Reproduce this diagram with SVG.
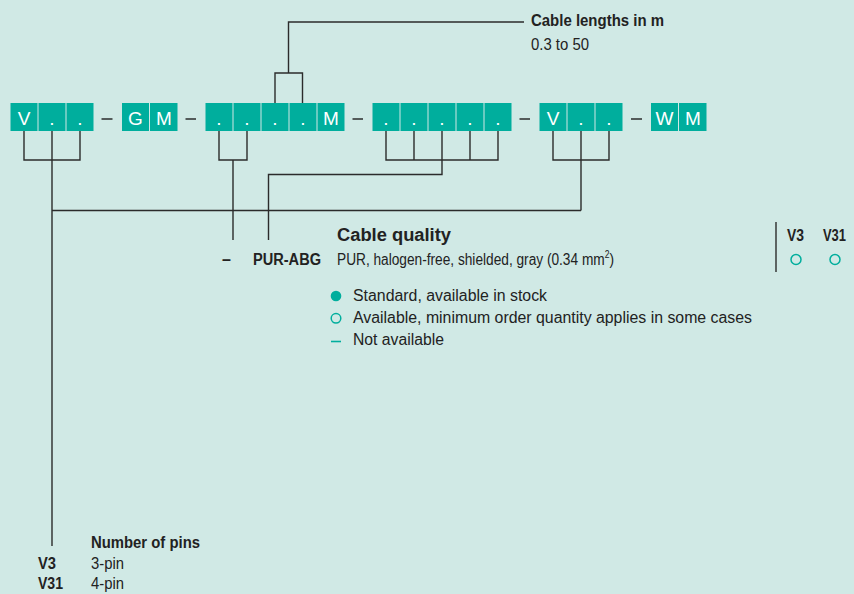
<svg xmlns="http://www.w3.org/2000/svg" width="854" height="594" viewBox="0 0 854 594">
<style>
.bx{fill:#00ae9d}
.bt{fill:#fff;font-family:"Liberation Sans",Arial,sans-serif;font-size:19px;text-anchor:middle}
.ln{fill:none;stroke:#2b2b2b;stroke-width:1.4}
.ds{stroke:#2b2b2b;stroke-width:1.5}
.t{fill:#222;font-family:"Liberation Sans",Arial,sans-serif;font-size:16px}
.b{font-weight:bold}
.w{fill:#222;font-family:"Liberation Sans",Arial,sans-serif;font-size:16px}
</style>
<rect width="854" height="594" fill="#d0e9e5"/>
<g id="code">
<g id="g1">
<rect class="bx" x="10.5" y="103" width="27" height="28"/><rect class="bx" x="38.5" y="103" width="27" height="28"/><rect class="bx" x="66.5" y="103" width="27" height="28"/>
<text class="bt" x="24" y="124.5">V</text><text class="bt" x="52" y="124.5">.</text><text class="bt" x="80" y="124.5">.</text>
</g>
<g id="g2">
<rect class="bx" x="122" y="103" width="27" height="28"/><rect class="bx" x="150" y="103" width="27.5" height="28"/>
<text class="bt" x="135.5" y="124.5">G</text><text class="bt" x="164" y="124.5">M</text>
</g>
<g id="g3">
<rect class="bx" x="205.5" y="103" width="27" height="28"/><rect class="bx" x="233.5" y="103" width="27" height="28"/><rect class="bx" x="261.5" y="103" width="27" height="28"/><rect class="bx" x="289.5" y="103" width="27" height="28"/><rect class="bx" x="317.5" y="103" width="27" height="28"/>
<text class="bt" x="219" y="124.5">.</text><text class="bt" x="247" y="124.5">.</text><text class="bt" x="275" y="124.5">.</text><text class="bt" x="303" y="124.5">.</text><text class="bt" x="331" y="124.5">M</text>
</g>
<g id="g4">
<rect class="bx" x="372.5" y="103" width="27" height="28"/><rect class="bx" x="400.5" y="103" width="27" height="28"/><rect class="bx" x="428.5" y="103" width="27" height="28"/><rect class="bx" x="456.5" y="103" width="27" height="28"/><rect class="bx" x="484.5" y="103" width="27" height="28"/>
<text class="bt" x="386" y="124.5">.</text><text class="bt" x="414" y="124.5">.</text><text class="bt" x="442" y="124.5">.</text><text class="bt" x="470" y="124.5">.</text><text class="bt" x="498" y="124.5">.</text>
</g>
<g id="g5">
<rect class="bx" x="539.5" y="103" width="27" height="28"/><rect class="bx" x="567.5" y="103" width="27" height="28"/><rect class="bx" x="595.5" y="103" width="27" height="28"/>
<text class="bt" x="553" y="124.5">V</text><text class="bt" x="581" y="124.5">.</text><text class="bt" x="609" y="124.5">.</text>
</g>
<g id="g6">
<rect class="bx" x="651" y="103" width="27" height="28"/><rect class="bx" x="679" y="103" width="27.5" height="28"/>
<text class="bt" x="664.5" y="124.5">W</text><text class="bt" x="693" y="124.5">M</text>
</g>
<g id="dashes">
<line class="ds" x1="101.5" y1="119" x2="112.5" y2="119"/>
<line class="ds" x1="185.5" y1="119" x2="196" y2="119"/>
<line class="ds" x1="352.5" y1="119" x2="363" y2="119"/>
<line class="ds" x1="519.5" y1="119" x2="530" y2="119"/>
<line class="ds" x1="631" y1="119" x2="642" y2="119"/>
</g>
</g>
<g id="connectors">
<path class="ln" d="M24 131V160H80V131M52 131V546"/>
<path class="ln" d="M52 210.5H581M553 131V160H609V131M581 131V210.5"/>
<path class="ln" d="M219 131V160H247V131M233 160V240"/>
<path class="ln" d="M275 103V73H302.5V103M288.5 73V22H524"/>
<path class="ln" d="M386 131V160H498V131M414 131V160M470 131V160M442 131V174.5H268.5V240"/>
<path class="ln" d="M776 222V272"/>
</g>
<g id="lengths">
<text class="t b" x="531" y="26" textLength="133" lengthAdjust="spacingAndGlyphs">Cable lengths in m</text>
<text class="t" x="531" y="50" textLength="58" lengthAdjust="spacingAndGlyphs">0.3 to 50</text>
</g>
<g id="quality">
<text class="t b" x="337" y="241" style="font-size:18px" textLength="114" lengthAdjust="spacingAndGlyphs">Cable quality</text>
<text class="t b" x="222" y="265">–</text>
<text class="t b" x="253" y="265" textLength="68" lengthAdjust="spacingAndGlyphs">PUR-ABG</text>
<text class="t" x="337" y="265" textLength="277" lengthAdjust="spacingAndGlyphs">PUR, halogen-free, shielded, gray (0.34 mm<tspan dy="-7" style="font-size:10px">2</tspan><tspan dy="7">)</tspan></text>
</g>
<g id="variants">
<text class="t b" x="787" y="241" textLength="17" lengthAdjust="spacingAndGlyphs">V3</text>
<text class="t b" x="823" y="241" textLength="23" lengthAdjust="spacingAndGlyphs">V31</text>
<circle cx="796" cy="259.5" r="5" fill="none" stroke="#00ae9d" stroke-width="1.5"/>
<circle cx="835" cy="259.5" r="5" fill="none" stroke="#00ae9d" stroke-width="1.5"/>
</g>
<g id="legend">
<circle cx="336" cy="296" r="5.3" fill="#00ae9d"/>
<text class="w" x="353" y="300.5" textLength="194" lengthAdjust="spacingAndGlyphs">Standard, available in stock</text>
<circle cx="336" cy="318.3" r="4.8" fill="none" stroke="#00ae9d" stroke-width="1.5"/>
<text class="w" x="353" y="323" textLength="399" lengthAdjust="spacingAndGlyphs">Available, minimum order quantity applies in some cases</text>
<line x1="331" y1="341.5" x2="341" y2="341.5" stroke="#00ae9d" stroke-width="1.6"/>
<text class="w" x="353" y="345" textLength="91" lengthAdjust="spacingAndGlyphs">Not available</text>
</g>
<g id="pins">
<text class="t b" x="91" y="548" textLength="109" lengthAdjust="spacingAndGlyphs">Number of pins</text>
<text class="t b" x="38" y="569" textLength="18" lengthAdjust="spacingAndGlyphs">V3</text>
<text class="t" x="91" y="569" textLength="33" lengthAdjust="spacingAndGlyphs">3-pin</text>
<text class="t b" x="38" y="589" textLength="25" lengthAdjust="spacingAndGlyphs">V31</text>
<text class="t" x="91" y="589" textLength="33" lengthAdjust="spacingAndGlyphs">4-pin</text>
</g>
</svg>
